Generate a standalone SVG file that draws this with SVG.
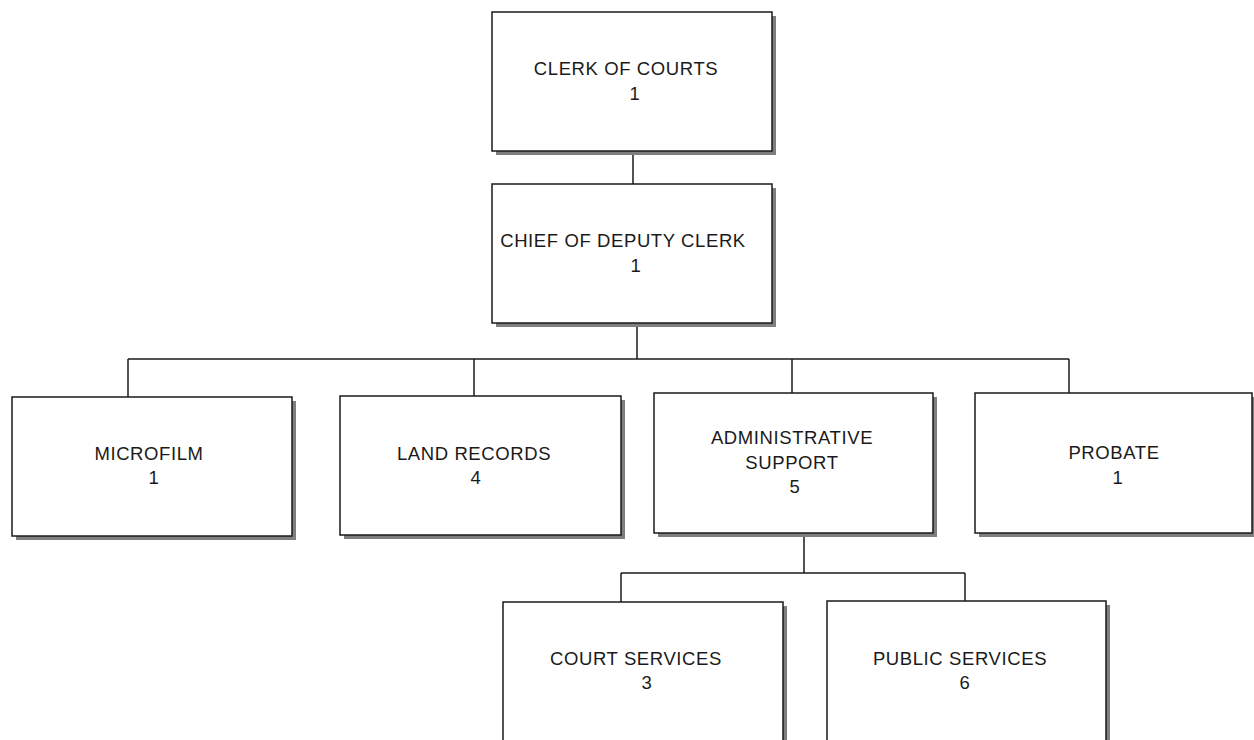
<svg xmlns="http://www.w3.org/2000/svg" width="1254" height="740" viewBox="0 0 1254 740">
<style>
.sh{fill:#7f7f7f}
.bx{fill:#fff;stroke:#1a1a1a;stroke-width:1.5}
.t{font-family:"Liberation Sans",Arial,sans-serif;font-size:18.5px;fill:#1a1a1a;text-anchor:middle;letter-spacing:0.6px}
.c{stroke:#1a1a1a;stroke-width:1.5;fill:none}
</style>
<rect width="1254" height="740" fill="#fff"/>
<g id="connectors">
<line class="c" x1="633" y1="151" x2="633" y2="184"/>
<line class="c" x1="637" y1="323" x2="637" y2="359"/>
<line class="c" x1="128" y1="359" x2="1069" y2="359"/>
<line class="c" x1="128" y1="359" x2="128" y2="397"/>
<line class="c" x1="474" y1="359" x2="474" y2="396"/>
<line class="c" x1="792" y1="359" x2="792" y2="393"/>
<line class="c" x1="1069" y1="359" x2="1069" y2="393"/>
<line class="c" x1="804" y1="533" x2="804" y2="573"/>
<line class="c" x1="621" y1="573" x2="965" y2="573"/>
<line class="c" x1="621" y1="573" x2="621" y2="602"/>
<line class="c" x1="965" y1="573" x2="965" y2="601"/>
</g>
<g id="clerk">
<rect class="sh" x="496" y="16" width="280" height="139"/>
<rect class="bx" x="492" y="12" width="280" height="139"/>
<text class="t" x="626" y="75">CLERK OF COURTS</text>
<text class="t" x="635" y="100">1</text>
</g>
<g id="chief">
<rect class="sh" x="496" y="188" width="280" height="139"/>
<rect class="bx" x="492" y="184" width="280" height="139"/>
<text class="t" x="623" y="247">CHIEF OF DEPUTY CLERK</text>
<text class="t" x="636" y="272">1</text>
</g>
<g id="microfilm">
<rect class="sh" x="16" y="401" width="280" height="139"/>
<rect class="bx" x="12" y="397" width="280" height="139"/>
<text class="t" x="149" y="460">MICROFILM</text>
<text class="t" x="154" y="484">1</text>
</g>
<g id="land">
<rect class="sh" x="344" y="400" width="281" height="139"/>
<rect class="bx" x="340" y="396" width="281" height="139"/>
<text class="t" x="474" y="460">LAND RECORDS</text>
<text class="t" x="476" y="484">4</text>
</g>
<g id="admin">
<rect class="sh" x="658" y="397" width="279" height="140"/>
<rect class="bx" x="654" y="393" width="279" height="140"/>
<text class="t" x="792" y="444">ADMINISTRATIVE</text>
<text class="t" x="792" y="469">SUPPORT</text>
<text class="t" x="795" y="493">5</text>
</g>
<g id="probate">
<rect class="sh" x="979" y="397" width="280" height="140"/>
<rect class="bx" x="975" y="393" width="277" height="140"/>
<text class="t" x="1114" y="459">PROBATE</text>
<text class="t" x="1118" y="484">1</text>
</g>
<g id="court">
<rect class="sh" x="507" y="606" width="280" height="150"/>
<rect class="bx" x="503" y="602" width="280" height="150"/>
<text class="t" x="636" y="665">COURT SERVICES</text>
<text class="t" x="647" y="689">3</text>
</g>
<g id="public">
<rect class="sh" x="831" y="605" width="279" height="150"/>
<rect class="bx" x="827" y="601" width="279" height="150"/>
<text class="t" x="960" y="665">PUBLIC SERVICES</text>
<text class="t" x="965" y="689">6</text>
</g>
</svg>
